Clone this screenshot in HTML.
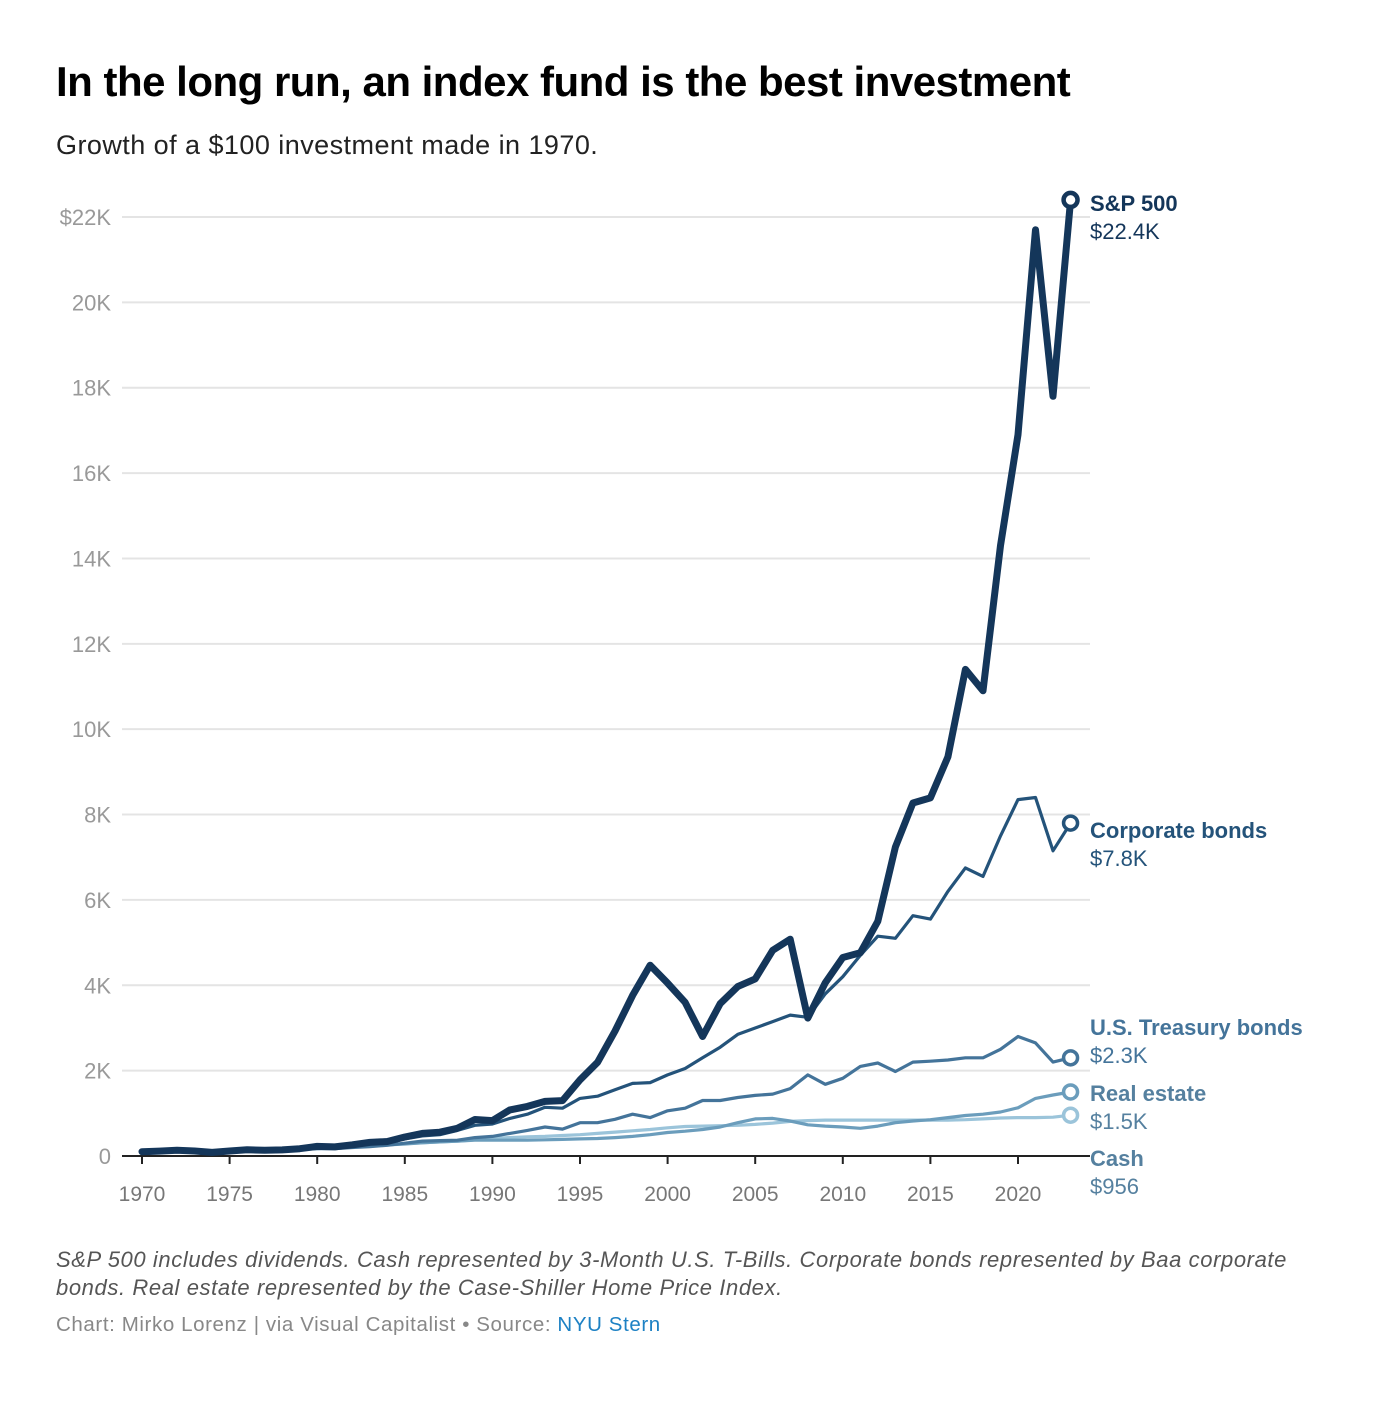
<!DOCTYPE html>
<html><head><meta charset="utf-8"><style>
body{margin:0;background:#fff;width:1374px;height:1418px;overflow:hidden;font-family:"Liberation Sans",sans-serif}
h1{position:absolute;left:56px;top:58px;margin:0;font-size:42px;font-weight:bold;color:#000;letter-spacing:-0.5px}
.sub{position:absolute;left:56px;top:130px;font-size:27px;letter-spacing:0.45px;color:#222}
.note{position:absolute;left:56px;top:1246px;width:1270px;font-size:22px;letter-spacing:0.6px;font-style:italic;color:#555;line-height:28px}
.src{position:absolute;left:56px;top:1313px;font-size:20.5px;letter-spacing:0.6px;color:#888}
.src span{color:#1d81c4}
</style></head><body>
<h1>In the long run, an index fund is the best investment</h1>
<div class="sub">Growth of a $100 investment made in 1970.</div>
<svg id="chart" width="1374" height="1418" style="position:absolute;left:0;top:0"></svg>
<div class="note">S&amp;P 500 includes dividends. Cash represented by 3-Month U.S. T-Bills. Corporate bonds represented by Baa corporate bonds. Real estate represented by the Case-Shiller Home Price Index.</div>
<div class="src">Chart: Mirko Lorenz | via Visual Capitalist • Source: <span>NYU Stern</span></div>
<script>
const years=[];for(let y=1970;y<=2023;y++)years.push(y);
const yTicks=[0,2000,4000,6000,8000,10000,12000,14000,16000,18000,20000,22000];
const yTickLabels=["0","2K","4K","6K","8K","10K","12K","14K","16K","18K","20K","$22K"];
const xTicks=[1970,1975,1980,1985,1990,1995,2000,2005,2010,2015,2020];
const sp500=[100,114,136,116,85,117,145,135,144,170,225,214,260,319,339,446,530,558,650,856,829,1081,1163,1280,1297,1784,2194,2926,3762,4470,4050,3600,2800,3570,3970,4150,4820,5080,3230,4060,4650,4760,5500,7240,8270,8390,9350,11400,10900,14300,16900,21700,17800,22400];
const corporate=[100,110,110,110,110,120,140,150,160,170,180,190,240,280,320,400,470,500,600,720,750,880,980,1140,1120,1350,1400,1550,1700,1720,1900,2050,2300,2550,2850,3000,3150,3300,3250,3800,4200,4700,5150,5100,5630,5550,6200,6750,6550,7500,8350,8400,7150,7800];
const treasury=[100,110,120,120,120,130,140,140,150,160,170,170,200,220,250,300,350,360,370,430,460,530,600,680,630,780,780,860,980,900,1060,1120,1300,1300,1370,1420,1450,1580,1900,1680,1820,2100,2180,1980,2200,2220,2250,2300,2300,2500,2800,2650,2200,2300];
const realEstate=[100,100,105,110,120,130,140,160,180,200,220,230,240,250,260,280,310,330,350,370,370,370,370,380,390,400,410,430,460,500,550,580,620,680,780,870,880,820,730,700,680,650,700,780,820,850,900,950,980,1030,1130,1350,1430,1500];
const cash=[100,100,100,110,110,120,120,130,140,150,170,200,220,240,270,290,310,330,350,380,410,430,450,460,480,500,530,560,590,620,660,690,700,710,720,740,770,810,830,840,840,840,840,840,840,840,840,850,870,890,900,900,910,956];
const seriesNames=["S&P 500","Corporate bonds","U.S. Treasury bonds","Real estate","Cash"];
const seriesLabels=["$22.4K","$7.8K","$2.3K","$1.5K","$956"];
const seriesData=[sp500,corporate,treasury,realEstate,cash];
const colors=["#14365a","#24537a","#44749a","#6b9dbc","#9bc4da"];
const widths=[7,3.2,3.2,3.2,3.2];
const labelY=[203,830,1027,1093,1158];
const X=y=>142+(y-1970)*17.52;
const Y=v=>1156-v*(939/22000);
const svg=document.getElementById('chart');
const NS='http://www.w3.org/2000/svg';
function mk(t,a){const e=document.createElementNS(NS,t);for(const k in a)e.setAttribute(k,a[k]);svg.appendChild(e);return e;}
yTicks.forEach((v,i)=>{
 if(v>0){const l=mk('line',{x1:122,x2:1090,y1:Y(v),y2:Y(v),stroke:'#e4e4e4','stroke-width':2});
 
 }
 const t=mk('text',{x:111,y:Y(v)+8,'text-anchor':'end','font-size':22,fill:'#999','font-family':'Liberation Sans, sans-serif'});
 t.textContent=yTickLabels[i];
 
 
});
const ax=mk('line',{x1:122,x2:1090,y1:1156,y2:1156,stroke:'#222','stroke-width':2});


xTicks.forEach(y=>{
 const tk=mk('line',{x1:X(y),x2:X(y),y1:1156,y2:1164,stroke:'#222','stroke-width':2});
 
 
 const t=mk('text',{x:X(y),y:1201,'text-anchor':'middle','font-size':21,fill:'#777','font-family':'Liberation Sans, sans-serif'});
 t.textContent=y;
 
 
});
for(let s=seriesData.length-1;s>=0;s--){
 const d=seriesData[s].map((v,i)=>(i?'L':'M')+X(years[i]).toFixed(1)+','+Y(v).toFixed(1)).join('');
 const p=mk('path',{d:d,fill:'none',stroke:colors[s],'stroke-width':widths[s],'stroke-linejoin':'round','stroke-linecap':'round'});
 
 
 const last=seriesData[s][seriesData[s].length-1];
 const c=mk('circle',{cx:X(2023),cy:Y(last),r:7,fill:'#fff',stroke:colors[s],'stroke-width':s===0?4.5:3.5});
 
 
 const lc=s>=3?'#55809f':colors[s];
 const t1=mk('text',{x:1090,y:labelY[s]+8,'font-size':22,'font-weight':'bold',fill:lc,'font-family':'Liberation Sans, sans-serif'});
 t1.textContent=seriesNames[s];
 
 
 const t2=mk('text',{x:1090,y:labelY[s]+36,'font-size':22,fill:lc,'font-family':'Liberation Sans, sans-serif'});
 t2.textContent=seriesLabels[s];
 
 
}
</script>
</body></html>
